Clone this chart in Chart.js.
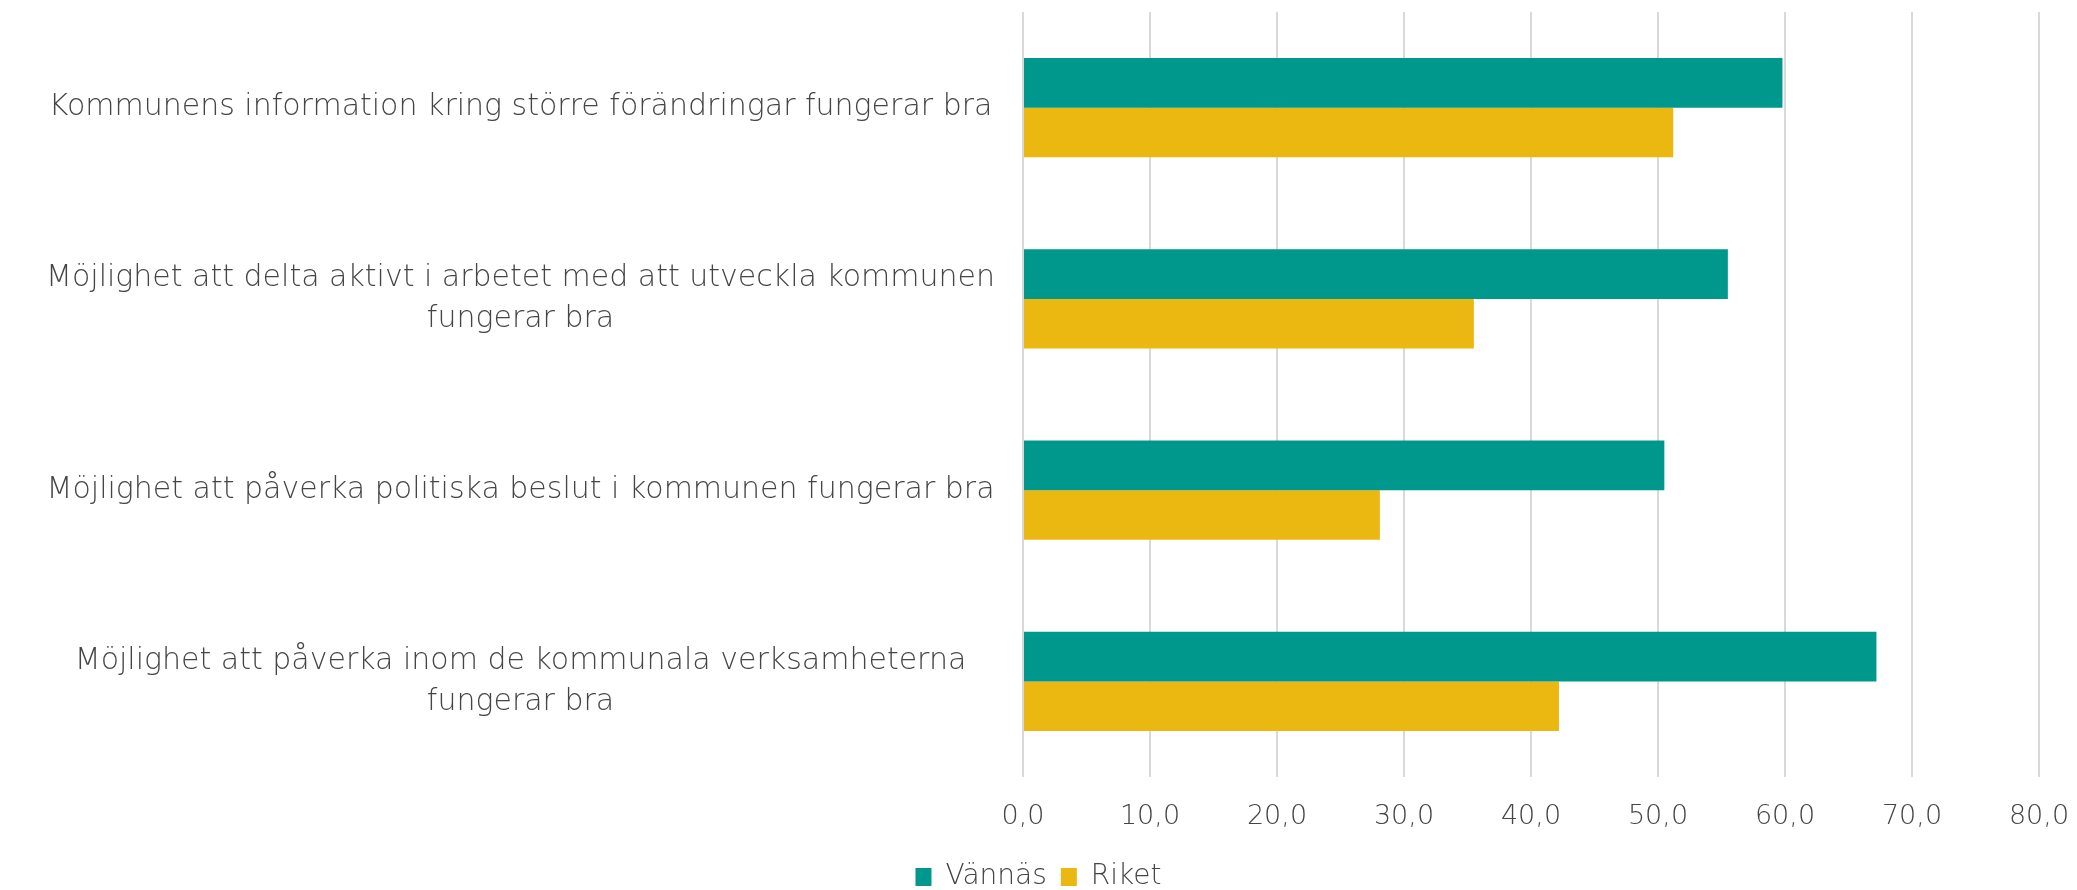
<!DOCTYPE html>
<html>
<head>
<meta charset="utf-8">
<script src="https://cdn.jsdelivr.net/npm/chart.js@4"></script>
<style>
  html, body { margin: 0; padding: 0; background: #fff; }
  #wrap { width: 2077px; height: 890px; }
</style>
</head>
<body>
<div id="wrap"><canvas id="barChart"></canvas></div>
<script>
const categories = [
  "Kommunens information kring större förändringar fungerar bra",
  ["Möjlighet att delta aktivt i arbetet med att utveckla kommunen", "fungerar bra"],
  "Möjlighet att påverka politiska beslut i kommunen fungerar bra",
  ["Möjlighet att påverka inom de kommunala verksamheterna", "fungerar bra"]
];
const seriesNames = ["Vännäs", "Riket"];
const vannasValues = [59.8, 55.5, 50.5, 67.2];
const riketValues = [51.2, 35.5, 28.1, 42.2];
const tickMin = 0;
const tickMax = 80;
const tickStep = 10;

const barColors = ["#00978D", "#EBB711"];
const textColor = "#454545";
const fontFamily = "'DejaVu Sans', sans-serif";

new Chart("barChart", {
  type: "bar",
  data: {
    labels: categories,
    datasets: [{
      label: seriesNames[0],
      data: vannasValues,
      backgroundColor: barColors[0]
    }, {
      label: seriesNames[1],
      data: riketValues,
      backgroundColor: barColors[1]
    }]
  },
  options: {
    indexAxis: "y",
    responsive: true,
    maintainAspectRatio: false,
    animation: false,
    categoryPercentage: 0.52,
    barPercentage: 1.0,
    layout: { padding: { top: 12, right: 0, left: 0, bottom: -11 } },
    plugins: {
      tooltip: { enabled: false },
      legend: {
        position: "bottom",
        labels: {
          color: textColor,
          font: { family: fontFamily, size: 28, weight: "200" },
          boxWidth: 16,
          boxHeight: 18,
          padding: 14
        }
      }
    },
    scales: {
      x: {
        min: tickMin,
        max: tickMax,
        ticks: {
          stepSize: tickStep,
          color: textColor,
          padding: 24,
          font: { family: fontFamily, size: 27, weight: "200" },
          callback: function (v) { return v.toFixed(1).replace(".", ","); }
        },
        grid: { color: "#d9d9d9", lineWidth: 2, drawTicks: false },
        border: { display: false },
        afterFit: function (scale) {
          // keep room on the right for the last tick label
          scale.height = 72;
          scale.paddingLeft = 0;
          scale.paddingRight = 38;
        }
      },
      y: {
        ticks: {
          color: textColor,
          padding: 28,
          crossAlign: "center",
          font: { family: fontFamily, size: 30, weight: "200", lineHeight: 1.36 }
        },
        grid: { display: false, drawTicks: false },
        border: { display: false },
        afterFit: function (scale) {
          scale.width = 1023;
          scale.paddingTop = 0;
          scale.paddingBottom = 0;
        }
      }
    }
  }
});
</script>
</body>
</html>
